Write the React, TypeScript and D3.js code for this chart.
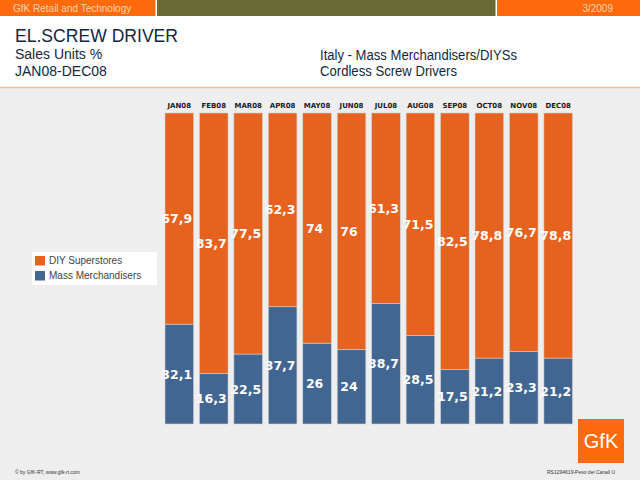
import React from "react";
import * as d3 from "d3";

const months = ["JAN08", "FEB08", "MAR08", "APR08", "MAY08", "JUN08", "JUL08", "AUG08", "SEP08", "OCT08", "NOV08", "DEC08"];
const diySuperstores = [67.9, 83.7, 77.5, 62.3, 74, 76, 61.3, 71.5, 82.5, 78.8, 76.7, 78.8];
const massMerchandisers = [32.1, 16.3, 22.5, 37.7, 26, 24, 38.7, 28.5, 17.5, 21.2, 23.3, 21.2];
const seriesNames = ["DIY Superstores", "Mass Merchandisers"];

const W = 640;
const H = 480;
const ORANGE = "#E5621F";
const BLUE = "#416691";
const NAVY = "#12263F";
const FONT = "'Liberation Sans', Arial, sans-serif";
const VFONT = "'DejaVu Sans', Verdana, sans-serif";

const fmt = (v: number) => String(v).replace(".", ",");

export default function App() {
  const x = d3.scaleBand<string>().domain(months).range([165, 572.5]).paddingInner(0.17).paddingOuter(0);
  const y = d3.scaleLinear().domain([0, 100]).range([424, 113]);
  const bw = x.bandwidth();

  const stacked = months.map((m, i) => {
    const mass = massMerchandisers[i];
    const diy = diySuperstores[i];
    return { m, segs: [
      { key: "mass", y0: 0, y1: mass, v: mass, color: BLUE },
      { key: "diy", y0: mass, y1: mass + diy, v: diy, color: ORANGE },
    ] };
  });

  return (
    <svg width={W} height={H} style={{ position: "absolute", left: 0, top: 0, display: "block" }}>
      <rect x={0} y={0} width={W} height={H} fill="#EEEEEE" />
      <rect x={0} y={0} width={W} height={87} fill="#FFFFFF" />
      {/* header band */}
      <rect x={0} y={0} width={155.5} height={16} fill="#FF6A0D" />
      <rect x={157} y={0} width={338.5} height={16} fill="#6A6A34" />
      <rect x={497} y={0} width={143} height={16} fill="#FF6A0D" />
      <text x={13} y={12} fontFamily={FONT} fontSize={10} fill="#FFD2B0">GfK Retail and Technology</text>
      <text x={613} y={12} textAnchor="end" fontFamily={FONT} fontSize={10} fill="#FFD2B0">3/2009</text>
      {/* titles */}
      <text x={15} y={42} fontFamily={FONT} fontSize={18.5} fill={NAVY} textLength={163} lengthAdjust="spacingAndGlyphs">EL.SCREW DRIVER</text>
      <text x={15} y={59} fontFamily={FONT} fontSize={14} fill={NAVY}>Sales Units %</text>
      <text x={15} y={76} fontFamily={FONT} fontSize={14} fill={NAVY}>JAN08-DEC08</text>
      <text x={320} y={60} fontFamily={FONT} fontSize={14} fill={NAVY} textLength={197} lengthAdjust="spacingAndGlyphs">Italy - Mass Merchandisers/DIYSs</text>
      <text x={320} y={76} fontFamily={FONT} fontSize={14} fill={NAVY} textLength={137} lengthAdjust="spacingAndGlyphs">Cordless Screw Drivers</text>
      <line x1={0} x2={W} y1={87.5} y2={87.5} stroke="#E6BFA0" strokeWidth={1.5} />

      {/* month labels */}
      {months.map((m) => (
        <text key={m} x={(x(m) ?? 0) + bw / 2} y={108} textAnchor="middle" fontFamily={VFONT} fontWeight="bold" fontSize={7} fill="#1A1A1A">{m}</text>
      ))}

      {/* bars */}
      {stacked.map((d) => (
        <g key={d.m}>
          {d.segs.map((s) => (
            <rect key={s.key} x={x(d.m)} y={y(s.y1)} width={bw} height={y(s.y0) - y(s.y1)} fill={s.color} stroke="#D0D0D0" strokeWidth={0.6} />
          ))}
        </g>
      ))}
      {/* value labels */}
      {stacked.map((d) => (
        <g key={d.m + "l"}>
          {d.segs.map((s) => (
            <text key={s.key} x={(x(d.m) ?? 0) + bw / 2 - 2.5} y={(y(s.y0) + y(s.y1)) / 2} dy="0.36em" textAnchor="middle" fontFamily={VFONT} fontWeight="bold" fontSize={12.5} fill="#FFFFFF">{fmt(s.v)}</text>
          ))}
        </g>
      ))}

      {/* legend */}
      <rect x={32} y={252} width={125} height={33} fill="#FFFFFF" />
      {seriesNames.map((n, i) => (
        <g key={n}>
          <rect x={35} y={256 + i * 15} width={10} height={9.5} fill={i === 0 ? ORANGE : BLUE} />
          <text x={49} y={264 + i * 15} fontFamily={FONT} fontSize={10} fill="#444444">{n}</text>
        </g>
      ))}

      {/* logo */}
      <rect x={578} y={419} width={46} height={44} fill="#FF6A0D" />
      <text x={601} y={448} textAnchor="middle" fontFamily={FONT} fontSize={20} fill="#FFFFFF">GfK</text>

      {/* footer */}
      <text x={15} y={474} fontFamily={FONT} fontSize={5} fill="#333333">© by GfK-RT, www.gfk-rt.com</text>
      <text x={547} y={474} fontFamily={FONT} fontSize={5} fill="#333333">RS1294619-Peso dei Canali U</text>
    </svg>
  );
}
